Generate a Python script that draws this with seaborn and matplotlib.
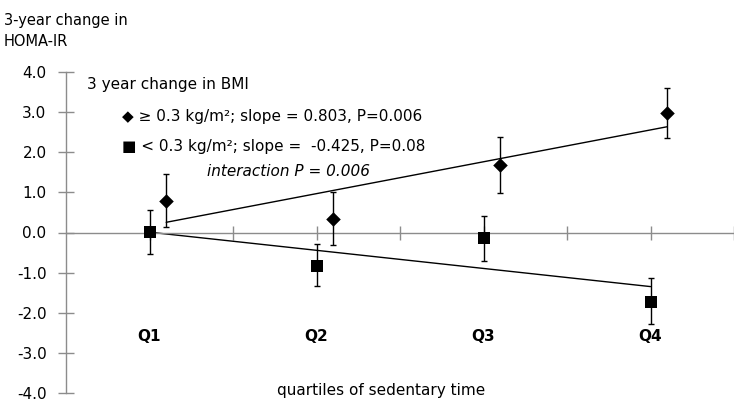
import numpy as np
import pandas as pd
import matplotlib
matplotlib.use("Agg")
import matplotlib.pyplot as plt
import seaborn as sns

# datos
quartiles = ["Q1", "Q2", "Q3", "Q4"]
high_mean = [0.78, 0.34, 1.68, 2.98]
high_low = [0.13, -0.32, 0.99, 2.36]
high_up = [1.47, 1.02, 2.37, 3.61]
low_mean = [0.02, -0.84, -0.14, -1.72]
low_low = [-0.53, -1.34, -0.72, -2.27]
low_up = [0.56, -0.28, 0.41, -1.13]
yticks = [-4.0, -3.0, -2.0, -1.0, 0.0, 1.0, 2.0, 3.0, 4.0]

pos = np.arange(len(quartiles))
df_high = pd.DataFrame({"x": pos + 0.1, "y": high_mean, "lo": high_low, "up": high_up})
df_low = pd.DataFrame({"x": pos, "y": low_mean, "lo": low_low, "up": low_up})

sns.set_style("white")
plt.rcParams["font.family"] = ["DejaVu Sans"]
plt.rcParams["text.color"] = "black"
plt.rcParams["ytick.labelcolor"] = "black"

fig = plt.figure(figsize=(7.34, 4.03), dpi=100)
ax = fig.add_axes([66 / 734, 1 - 393 / 403, 1 - 66 / 734, (393 - 72) / 403])

# rectas de tendencia
for d in (df_high, df_low):
    sns.regplot(data=d, x="x", y="y", ax=ax, ci=None, scatter=False, truncate=True,
                line_kws={"color": "black", "lw": 1})

# barras de error
for d in (df_high, df_low):
    ax.errorbar(d["x"], d["y"], yerr=[d["y"] - d["lo"], d["up"] - d["y"]], fmt="none",
                ecolor="black", elinewidth=1, capsize=2.5, capthick=1, zorder=3)

sns.scatterplot(data=df_high, x="x", y="y", marker="D", color="black", s=55, ax=ax, zorder=4, linewidth=0)
sns.scatterplot(data=df_low, x="x", y="y", marker="s", color="black", s=80, ax=ax, zorder=4, linewidth=0)

ax.set_xlim(-0.5, 3.456)
ax.set_ylim(-4, 4)
ax.set_xlabel("")
ax.set_ylabel("")

for s in ["top", "right"]:
    ax.spines[s].set_visible(False)
ax.spines["bottom"].set_position(("data", 0))
ax.spines["left"].set_bounds(-4, 4)
for s in ["left", "bottom"]:
    ax.spines[s].set_color("#8c8c8c")
    ax.spines[s].set_linewidth(1)

ax.set_yticks(yticks)
ax.set_yticklabels([f"{v:.1f}" for v in yticks], fontsize=11, color="black")
ax.set_xticks(np.arange(0, 3.51, 0.5))
ax.set_xticklabels([])
ax.tick_params(axis="y", direction="inout", length=12, color="#8c8c8c", width=1, pad=8, left=True)
ax.tick_params(axis="x", direction="inout", length=10, color="#8c8c8c", width=1, bottom=True)

for i, q in enumerate(quartiles):
    ax.text(pos[i], -2.6, q, ha="center", va="center", fontsize=11, fontweight="bold", color="black")

fig.text(381 / 734, 1 - 390 / 403, "quartiles of sedentary time", ha="center", va="center", fontsize=11)

# leyenda como texto
fig.text(87 / 734, 1 - 84 / 403, "3 year change in BMI", ha="left", va="center", fontsize=11)
fig.text(122 / 734, 1 - 117 / 403, "◆ ≥ 0.3 kg/m²; slope = 0.803, P=0.006", ha="left", va="center", fontsize=11)
fig.text(122 / 734, 1 - 147 / 403, "■ < 0.3 kg/m²; slope =  -0.425, P=0.08", ha="left", va="center", fontsize=11)
fig.text(207 / 734, 1 - 172 / 403, "interaction P = 0.006", ha="left", va="center", fontsize=11, style="italic")

fig.text(4 / 734, 1 - 31 / 403, "3-year change in\nHOMA-IR", ha="left", va="center", fontsize=10.5, linespacing=1.5)

fig.savefig("out.png", dpi=100)
